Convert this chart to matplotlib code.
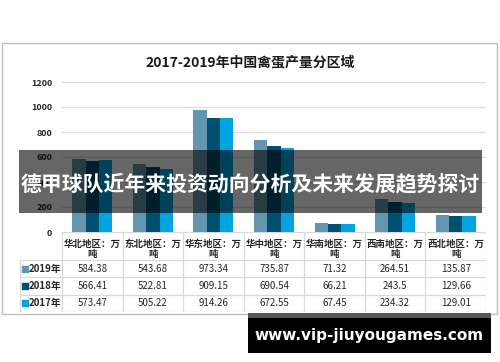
import numpy as np
import matplotlib
matplotlib.use('Agg')
import matplotlib.pyplot as plt
from matplotlib.patches import Rectangle

plt.rcParams['font.family'] = ['Noto Sans CJK SC', 'DejaVu Sans']

# ---------------- data ----------------
regions = ['华北地区：万吨', '东北地区：万吨', '华东地区：万吨', '华中地区：万吨',
           '华南地区：万吨', '西南地区：万吨', '西北地区：万吨']
years = ['2019年', '2018年', '2017年']
v2019 = [584.38, 543.68, 973.34, 735.87, 71.32, 264.51, 135.87]
v2018 = [566.41, 522.81, 909.15, 690.54, 66.21, 243.5, 129.66]
v2017 = [573.47, 505.22, 914.26, 672.55, 67.45, 234.32, 129.01]
series = [v2019, v2018, v2017]
colors = ['#6396ae', '#004f6e', '#00a5e0']

title = '2017-2019年中国禽蛋产量分区域'
banner = '德甲球队近年来投资动向分析及未来发展趋势探讨'
url = 'www.vip-jiuyougames.com'

W, H = 500, 362


def px(x0, y0, x1, y1):
    # pixel box -> figure fraction [left, bottom, width, height]
    return [x0 / W, 1 - y1 / H, (x1 - x0) / W, (y1 - y0) / H]


fig = plt.figure(figsize=(5, 3.62), dpi=100)

# chart frame
fig.patches.append(Rectangle((2 / W, 1 - 314 / H), 495 / W, 271 / H, transform=fig.transFigure,
                             fill=False, edgecolor='#bfbfbf', lw=1))

fig.text(250 / W, 1 - 62 / H, title, ha='center', va='center', fontsize=10, fontweight='bold', color='#1a1a1a')

# ---------------- bars ----------------
ax = fig.add_axes(px(62, 82, 486, 232))
x = np.arange(len(regions))
w = 0.22
for i, (vals, c) in enumerate(zip(series, colors)):
    ax.bar(x + (i - 1) * w, vals, w, color=c, zorder=2)
ax.set_xlim(-0.5, len(regions) - 0.5)
ax.set_ylim(0, 1200)
ax.set_yticks(range(0, 1201, 200))
ax.set_xticks([])
ax.grid(axis='y', color='#dedede', lw=0.9, zorder=0)
for s in ax.spines.values():
    s.set_visible(False)
ax.tick_params(axis='y', length=0, pad=7, labelsize=6.5, labelcolor='#262626')
for t in ax.get_yticklabels():
    t.set_fontweight('bold')

# ---------------- data table ----------------
cw = 424 / len(regions)
left = -0.5 - 42 / cw
tax = fig.add_axes(px(20, 232, 486, 312))
tax.set_xlim(left, len(regions) - 0.5)
tax.set_ylim(80, 0)
tax.axis('off')
lc = '#d9d9d9'
rows_y = [28, 45.3, 62.6, 80]
tax.plot([-0.5, len(regions) - 0.5], [0, 0], color=lc, lw=0.9)
for yy in rows_y:
    tax.plot([left, len(regions) - 0.5], [yy, yy], color=lc, lw=0.9)
for k in range(len(regions) + 1):
    tax.plot([k - 0.5, k - 0.5], [0, 80], color=lc, lw=0.9)
tax.plot([left, left], [28, 80], color=lc, lw=0.9)

for i, name in enumerate(regions):
    tax.text(i, 12, name[:-1], ha='center', va='center', fontsize=6.8, fontweight='bold', color='#262626')
    tax.text(i, 22.5, name[-1], ha='center', va='center', fontsize=6.8, fontweight='bold', color='#262626')

for r, (yr, vals, c) in enumerate(zip(years, series, colors)):
    yc = (rows_y[r] + rows_y[r + 1]) / 2
    tax.scatter([left + 5 / cw], [yc], marker='s', s=14, color=c, clip_on=False)
    tax.text(left + 9 / cw, yc, yr, ha='left', va='center', fontsize=7, fontweight='bold', color='#262626')
    for i, v in enumerate(vals):
        tax.text(i, yc, str(v), ha='center', va='center', fontsize=7, fontweight='medium', color='#262626')

# ---------------- overlays ----------------
ov = fig.add_axes([0, 0, 1, 1], zorder=10)
ov.set_xlim(0, W)
ov.set_ylim(H, 0)
ov.axis('off')
ov.add_patch(Rectangle((19, 150), 463, 63, color='black', alpha=0.6, lw=0))
ov.text(250, 184, banner, ha='center', va='center', fontsize=15, fontweight='bold', color='white')
ov.add_patch(Rectangle((248, 313), 243, 5, color='#555555', lw=0))
ov.add_patch(Rectangle((248, 318), 243, 35, color='black', lw=0))
ov.text(369.5, 335.5, url, ha='center', va='center', fontsize=11, fontweight='bold', color='white',
        family='DejaVu Sans')

fig.savefig('out.png', dpi=100)
